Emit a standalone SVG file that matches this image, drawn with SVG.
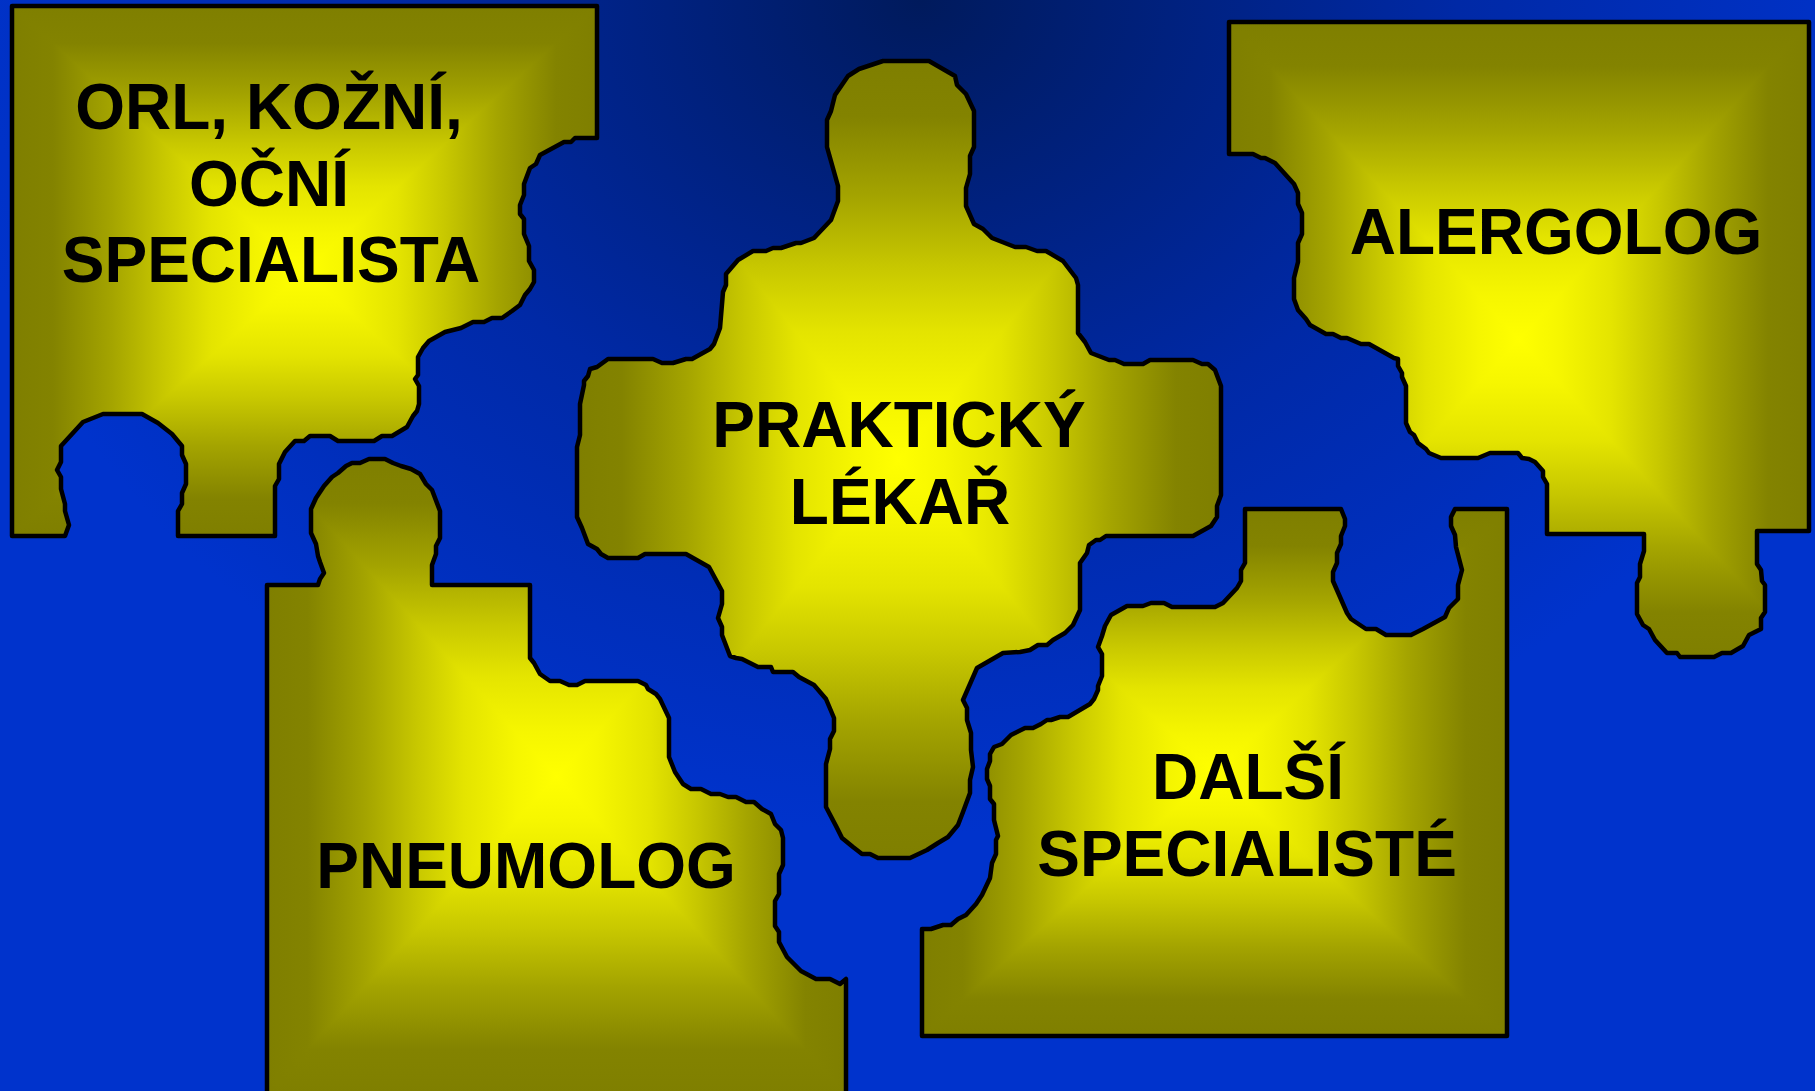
<svg xmlns="http://www.w3.org/2000/svg" xmlns:xlink="http://www.w3.org/1999/xlink" width="1815" height="1091" viewBox="0 0 1815 1091">
<style>
.lbl{font-family:"Liberation Sans",Arial,sans-serif;font-weight:bold;font-size:64px;fill:#000;text-anchor:middle}
.h{fill:url(#gh)}
.v{fill:url(#gv);mix-blend-mode:darken}
.o{fill:none;stroke:#000;stroke-width:4.5;stroke-linejoin:round}
</style>
<defs>
<radialGradient id="bg" gradientUnits="userSpaceOnUse" cx="920" cy="0" r="980" gradientTransform="translate(920 0) scale(1 0.85) translate(-920 0)">
<stop offset="0" stop-color="#001a5c"/>
<stop offset="0.55" stop-color="#0029a6"/>
<stop offset="1" stop-color="#0033cc"/>
</radialGradient>
<linearGradient id="gh" x1="0" y1="0" x2="1" y2="0">
<stop offset="0" stop-color="#7f7f00"/>
<stop offset="0.07" stop-color="#838300"/>
<stop offset="0.17" stop-color="#a4a400"/>
<stop offset="0.26" stop-color="#c8c800"/>
<stop offset="0.34" stop-color="#e4e400"/>
<stop offset="0.43" stop-color="#f6f600"/>
<stop offset="0.5" stop-color="#ffff00"/>
<stop offset="0.57" stop-color="#f6f600"/>
<stop offset="0.66" stop-color="#e4e400"/>
<stop offset="0.74" stop-color="#c8c800"/>
<stop offset="0.83" stop-color="#a4a400"/>
<stop offset="0.93" stop-color="#838300"/>
<stop offset="1" stop-color="#7f7f00"/>
</linearGradient>
<linearGradient id="gv" x1="0" y1="0" x2="0" y2="1" xlink:href="#gh"/>
<path id="p1" d="M12,6 L597,6 L597,138 L575,138 L571,142 L564,142 L540,155 L536,164 L530,168 L524,184 L524,195 L520,205 L520,214 L524,219 L524,234 L529,246 L529,261 L534,270 L534,282 L530,289 L525,295 L520,305 L512,311 L502,318 L492,318 L484,322 L473,322 L461,328 L445,332 L429,341 L423,348 L418,357 L418,375 L415,379 L419,386 L419,404 L417,411 L413,416 L407,427 L392,436 L382,436 L374,441 L338,441 L330,436 L310,436 L304,441 L295,441 L285,452 L279,464 L279,479 L275,486 L275,536 L178,536 L178,511 L182,504 L182,493 L186,484 L186,464 L182,455 L182,446 L172,434 L158,423 L142,414 L103,414 L83,422 L61,446 L61,462 L57,470 L61,477 L61,489 L65,504 L65,511 L69,525 L65,536 L12,536 Z"/>
<path id="p2" d="M883,61 L929,61 L955,76 L957,85 L966,94 L974,111 L974,147 L970,156 L970,174 L966,188 L966,206 L974,224 L983,229 L992,238 L1015,247 L1026,247 L1037,251 L1046,251 L1063,261 L1076,278 L1078,285 L1078,333 L1085,342 L1091,353 L1109,360 L1115,360 L1124,364 L1143,364 L1150,360 L1193,360 L1202,364 L1208,364 L1215,370 L1221,386 L1221,495 L1217,506 L1217,517 L1211,526 L1193,536 L1106,536 L1100,540 L1096,540 L1089,545 L1087,553 L1080,563 L1080,610 L1073,625 L1065,633 L1053,640 L1047,645 L1038,645 L1030,650 L1020,652 L1003,653 L977,668 L963,700 L967,708 L967,720 L971,733 L971,750 L973,767 L970,780 L970,793 L963,812 L958,825 L948,837 L938,843 L927,850 L910,858 L878,858 L870,854 L862,854 L853,847 L842,838 L836,826 L826,807 L826,764 L830,749 L830,739 L834,731 L834,718 L826,699 L814,685 L799,677 L793,672 L773,672 L771,667 L758,667 L742,659 L736,658 L730,656 L722,635 L722,627 L718,618 L722,604 L722,591 L709,567 L686,554 L645,554 L638,558 L608,558 L601,554 L597,549 L588,544 L582,528 L577,517 L577,447 L580,435 L580,404 L584,385 L584,381 L588,376 L590,369 L597,367 L608,359 L653,359 L662,363 L673,363 L686,359 L692,359 L710,349 L714,344 L720,328 L723,292 L726,285 L726,274 L738,260 L753,251 L766,251 L773,248 L781,248 L796,243 L801,243 L814,238 L831,220 L838,201 L838,186 L827,147 L827,120 L831,111 L835,95 L848,76 L859,69 Z"/>
<path id="p3" d="M1229,22 L1809,22 L1809,531 L1757,531 L1757,564 L1761,570 L1762,581 L1765,585 L1765,612 L1761,618 L1761,629 L1749,635 L1743,646 L1731,653 L1722,653 L1714,657 L1680,657 L1677,653 L1667,653 L1655,640 L1649,629 L1643,625 L1637,614 L1637,583 L1640,577 L1640,564 L1644,551 L1644,534 L1547,534 L1547,484 L1543,477 L1543,471 L1535,462 L1529,459 L1522,458 L1518,453 L1490,453 L1478,458 L1441,458 L1429,453 L1426,449 L1418,443 L1414,435 L1410,432 L1406,423 L1406,386 L1402,377 L1402,373 L1398,366 L1398,359 L1394,358 L1369,344 L1361,344 L1347,338 L1341,338 L1333,334 L1326,334 L1310,325 L1306,319 L1298,310 L1294,299 L1294,278 L1298,262 L1298,243 L1302,234 L1302,213 L1298,204 L1298,193 L1294,184 L1275,163 L1265,158 L1261,158 L1253,154 L1229,154 Z"/>
<path id="p4" d="M267,1094 L267,585 L318,585 L320,579 L324,573 L320,562 L318,556 L316,544 L311,533 L311,509 L316,498 L324,486 L332,477 L338,473 L346,466 L352,463 L360,463 L369,459 L385,459 L393,463 L401,466 L411,469 L420,474 L426,484 L432,490 L440,511 L440,538 L436,546 L436,554 L432,565 L432,585 L530,585 L530,658 L534,663 L540,674 L550,681 L560,681 L569,685 L577,685 L585,681 L638,681 L646,685 L648,689 L656,694 L660,699 L669,718 L669,757 L675,772 L683,784 L691,789 L701,789 L711,794 L720,794 L728,797 L736,797 L746,802 L754,802 L762,809 L771,814 L775,824 L781,830 L783,838 L783,865 L779,874 L779,894 L775,901 L775,926 L779,932 L779,942 L787,957 L801,971 L816,979 L830,979 L840,984 L846,979 L846,1094 Z"/>
<path id="p5" d="M1245,509 L1341,509 L1345,519 L1345,526 L1341,536 L1341,544 L1337,553 L1337,563 L1333,572 L1333,581 L1347,613 L1351,619 L1366,629 L1376,629 L1386,635 L1411,635 L1423,629 L1445,617 L1449,608 L1458,599 L1458,585 L1462,570 L1456,547 L1455,535 L1451,526 L1451,517 L1455,509 L1507,509 L1507,1036 L922,1036 L922,929 L931,929 L943,925 L951,925 L958,919 L966,915 L976,904 L982,895 L990,878 L992,863 L996,854 L996,840 L998,836 L996,828 L994,820 L994,804 L990,799 L990,786 L987,779 L987,769 L990,761 L990,754 L994,747 L1002,744 L1011,735 L1025,728 L1033,728 L1041,724 L1047,720 L1051,720 L1060,717 L1068,717 L1090,704 L1094,699 L1098,690 L1098,686 L1102,676 L1102,654 L1098,647 L1102,636 L1105,626 L1111,615 L1127,606 L1143,606 L1151,603 L1164,603 L1172,607 L1215,607 L1223,603 L1237,588 L1241,581 L1241,570 L1245,563 Z"/>
</defs>
<rect x="0" y="0" width="1815" height="1091" fill="url(#bg)"/>
<g id="connectors"/>
<g id="node-orl">
<use xlink:href="#p1" class="h"/><use xlink:href="#p1" class="v"/><use xlink:href="#p1" class="o"/>
<text class="lbl" x="269" y="129">ORL, KOŽNÍ,</text>
<text class="lbl" x="269" y="206">OČNÍ</text>
<text class="lbl" x="271" y="282">SPECIALISTA</text>
</g>
<g id="node-prakticky">
<use xlink:href="#p2" class="h"/><use xlink:href="#p2" class="v"/><use xlink:href="#p2" class="o"/>
<text class="lbl" x="899" y="447">PRAKTICKÝ</text>
<text class="lbl" x="900" y="524">LÉKAŘ</text>
</g>
<g id="node-alergolog">
<use xlink:href="#p3" class="h"/><use xlink:href="#p3" class="v"/><use xlink:href="#p3" class="o"/>
<text class="lbl" x="1556" y="254">ALERGOLOG</text>
</g>
<g id="node-pneumolog">
<use xlink:href="#p4" class="h"/><use xlink:href="#p4" class="v"/><use xlink:href="#p4" class="o"/>
<text class="lbl" x="526" y="888">PNEUMOLOG</text>
</g>
<g id="node-dalsi">
<use xlink:href="#p5" class="h"/><use xlink:href="#p5" class="v"/><use xlink:href="#p5" class="o"/>
<text class="lbl" x="1248" y="799">DALŠÍ</text>
<text class="lbl" x="1247" y="876">SPECIALISTÉ</text>
</g>
</svg>
